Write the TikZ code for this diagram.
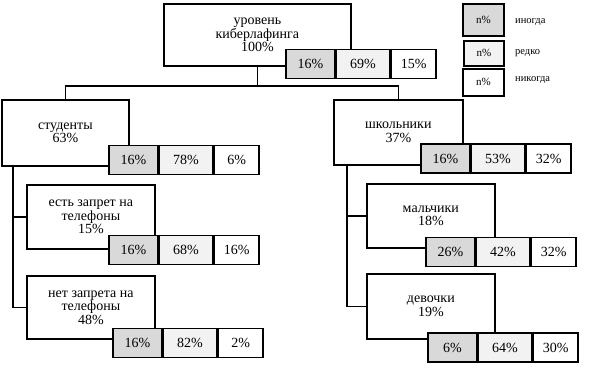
\documentclass[tikz,border=0pt]{standalone}
\usepackage{fontspec}
\setmainfont{Liberation Serif}
\usetikzlibrary{positioning}
\definecolor{OftenGray}{RGB}{217,217,217}
\definecolor{RareGray}{RGB}{242,242,242}
\tikzset{
	box/.style={draw=black,fill=white,line width=1.7pt,anchor=north west,inner sep=0pt,
		align=center,font=\fontsize{14}{13.5}\selectfont},
	cell/.style={draw=black,line width=1.7pt,minimum height=29pt,inner sep=0pt,
		font=\fontsize{14}{14}\selectfont},
	often/.style={cell,fill=OftenGray,minimum width=49pt,anchor=west},
	rare/.style={cell,fill=RareGray,minimum width=53pt},
	never/.style={cell,fill=white,minimum width=45pt},
	link/.style={draw=black,line width=1.4pt},
	legbox/.style={draw=black,line width=1.7pt,minimum width=41pt,inner sep=0pt,
		anchor=north west,font=\fontsize{11}{11}\selectfont},
	legtext/.style={anchor=west,inner sep=0pt,font=\fontsize{10.5}{10.5}\selectfont},
}
\begin{document}
\begin{tikzpicture}[x=1pt,y=-1pt]
			\useasboundingbox (0,0) rectangle (600,371);
			% main boxes
			\node[box,minimum width=187pt,minimum height=62pt] (root) at (163,3) {уровень\\киберлафинга\\100\%};
			\node[box,minimum width=127pt,minimum height=66pt] (stud) at (1,99) {студенты\\63\%};
			\node[box,minimum width=129pt,minimum height=65pt] (school) at (333,99) {школьники\\37\%};
			\node[box,minimum width=128pt,minimum height=64pt] (ban) at (26,184) {есть запрет на\\телефоны\\15\%};
			\node[box,minimum width=128pt,minimum height=63pt] (noban) at (26,275) {нет запрета на\\телефоны\\48\%};
			\node[box,minimum width=128pt,minimum height=64pt] (boys) at (366,183) {мальчики\\18\%};
			\node[box,minimum width=128pt,minimum height=65pt] (girls) at (366,273) {девочки\\19\%};
			% shares
			\node[often] (root1) at (285,64) {16\%};
			\node[rare,right=0pt of root1] (root2) {69\%};
			\node[never,right=0pt of root2] (root3) {15\%};
			\node[often] (stud1) at (108,160) {16\%};
			\node[rare,right=0pt of stud1] (stud2) {78\%};
			\node[never,right=0pt of stud2] (stud3) {6\%};
			\node[often] (school1) at (420,158.5) {16\%};
			\node[rare,right=0pt of school1] (school2) {53\%};
			\node[never,right=0pt of school2] (school3) {32\%};
			\node[often] (ban1) at (108,250) {16\%};
			\node[rare,right=0pt of ban1] (ban2) {68\%};
			\node[never,right=0pt of ban2] (ban3) {16\%};
			\node[often] (noban1) at (112,343) {16\%};
			\node[rare,right=0pt of noban1] (noban2) {82\%};
			\node[never,right=0pt of noban2] (noban3) {2\%};
			\node[often] (boys1) at (425,252) {26\%};
			\node[rare,right=0pt of boys1] (boys2) {42\%};
			\node[never,right=0pt of boys2] (boys3) {32\%};
			\node[often] (girls1) at (427,347.5) {6\%};
			\node[rare,right=0pt of girls1] (girls2) {64\%};
			\node[never,right=0pt of girls2] (girls3) {30\%};
			% tree lines
			\coordinate (fork) at (root.south |- 0,86);
			\coordinate (studtrunk) at (13,165);
			\coordinate (schooltrunk) at (347,164);
			\draw[link] (root.south) -- (fork);
			\draw[link] (fork) -| (stud.north);
			\draw[link] (fork) -| (school.north);
			\draw[link] (studtrunk) |- (ban.west);
			\draw[link] (studtrunk) |- (noban.west);
			\draw[link] (schooltrunk) |- (boys.west);
			\draw[link] (schooltrunk) |- (girls.west);
			% legend
			\node[legbox,fill=OftenGray,minimum height=32pt] (legoften) at (462,3) {n\%};
			\node[legbox,fill=RareGray,minimum width=40pt,minimum height=25pt] (legrare) at (463,40) {n\%};
			\node[legbox,fill=white,minimum height=27pt] (legnever) at (462,68) {n\%};
			\node[legtext] (txtoften) at (515,22) {иногда};
			\node[legtext] (txtrare) at (515,53) {редко};
			\node[legtext] (txtnever) at (515,80) {никогда};
		\end{tikzpicture}
\end{document}
